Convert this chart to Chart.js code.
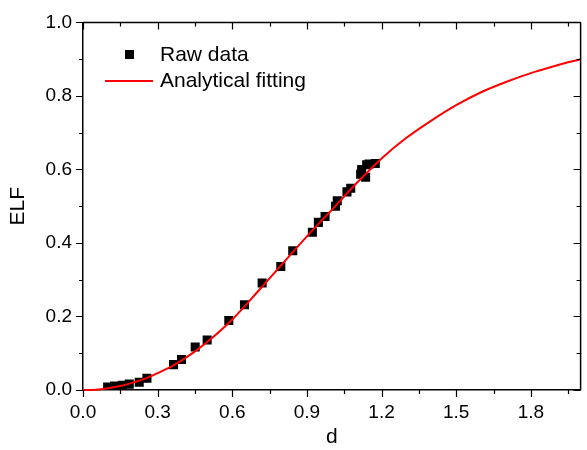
<!DOCTYPE html>
<html>
<head>
<meta charset="utf-8">
<script src="https://cdn.jsdelivr.net/npm/chart.js@4.4.1/dist/chart.umd.min.js"></script>
<style>
  html, body { margin: 0; padding: 0; background: #fff; }
  #wrap { width: 587px; height: 450px; }
</style>
</head>
<body>
<div id="wrap"><canvas id="elfChart"></canvas></div>
<script>
// raw data points (d, ELF)
const rawD   = [0.099, 0.127, 0.158, 0.186, 0.226, 0.257, 0.364, 0.396, 0.451, 0.499,
                0.586, 0.649, 0.720, 0.795, 0.843, 0.922, 0.946, 0.973, 1.015, 1.022,
                1.061, 1.076, 1.116, 1.136, 1.120, 1.140, 1.150, 1.175];
const rawELF = [0.008, 0.011, 0.013, 0.016, 0.021, 0.032, 0.069, 0.083, 0.117, 0.136,
                0.189, 0.232, 0.291, 0.336, 0.379, 0.429, 0.456, 0.472, 0.500, 0.515,
                0.539, 0.549, 0.587, 0.579, 0.600, 0.613, 0.615, 0.616];

// analytical fitting curve
const fitD   = [0, 0.05, 0.1, 0.15, 0.2, 0.25, 0.3, 0.35, 0.4, 0.45, 0.5, 0.6, 0.7, 0.8,
                0.9, 1.0, 1.1, 1.2, 1.3, 1.4, 1.5, 1.6, 1.7, 1.8, 1.9, 2.0];
const fitELF = [0, 0.001, 0.005, 0.011, 0.020, 0.031, 0.046, 0.062, 0.082, 0.105, 0.131,
                0.192, 0.266, 0.342, 0.418, 0.490, 0.563, 0.630, 0.686, 0.733, 0.775,
                0.810, 0.838, 0.862, 0.882, 0.900];

const xTicks = [0.0, 0.3, 0.6, 0.9, 1.2, 1.5, 1.8];
const yTicks = [0.0, 0.2, 0.4, 0.6, 0.8, 1.0];

const FONT = "'Liberation Sans', Arial, sans-serif";

// frame ticks: outward on bottom/left, inward on top/right, plus minor ticks
const frameTicks = {
  id: "frameTicks",
  afterDraw(chart) {
    const { ctx, chartArea: a, scales } = chart;
    const xs = scales.x, ys = scales.y;
    ctx.save();
    ctx.strokeStyle = "#000";
    ctx.lineWidth = 1.5;
    // top and right frame lines
    ctx.beginPath();
    ctx.moveTo(a.left, a.top); ctx.lineTo(a.right, a.top);
    ctx.moveTo(a.right, a.top); ctx.lineTo(a.right, a.bottom);
    ctx.stroke();
    ctx.lineWidth = 1.2;
    ctx.beginPath();
    for (let v = 0; v <= 2.0001; v += 0.15) {
      const major = Math.round(v / 0.15) % 2 === 0;
      const len = major ? 7 : 4;
      const px = Math.round(xs.getPixelForValue(v)) + 0.5;
      if (px > a.right + 1) continue;
      ctx.moveTo(px, a.bottom); ctx.lineTo(px, a.bottom + len);
      ctx.moveTo(px, a.top); ctx.lineTo(px, a.top + len);
    }
    for (let v = 0; v <= 1.0001; v += 0.1) {
      const major = Math.round(v / 0.1) % 2 === 0;
      const len = major ? 7 : 4;
      const py = Math.round(ys.getPixelForValue(v)) + 0.5;
      ctx.moveTo(a.left, py); ctx.lineTo(a.left - len, py);
      ctx.moveTo(a.right, py); ctx.lineTo(a.right - len, py);
    }
    ctx.stroke();

    // legend
    ctx.fillStyle = "#000";
    ctx.fillRect(125, 50, 9, 9);
    ctx.strokeStyle = "#ff0000";
    ctx.lineWidth = 2;
    ctx.beginPath();
    ctx.moveTo(105, 81); ctx.lineTo(153, 81);
    ctx.stroke();
    ctx.font = "21px " + FONT;
    ctx.textBaseline = "middle";
    ctx.fillStyle = "#000";
    ctx.fillText("Raw data", 160, 55);
    ctx.fillText("Analytical fitting", 160, 81);
    ctx.restore();
  }
};

new Chart(document.getElementById("elfChart"), {
  type: "scatter",
  data: {
    datasets: [{
      label: "Raw data",
      data: rawD.map((d, i) => ({ x: d, y: rawELF[i] })),
      pointStyle: "rect",
      radius: 6.4,
      backgroundColor: "#000",
      borderWidth: 0,
      order: 2
    }, {
      label: "Analytical fitting",
      data: fitD.map((d, i) => ({ x: d, y: fitELF[i] })),
      showLine: true,
      borderColor: "#ff0000",
      borderWidth: 2,
      pointRadius: 0,
      cubicInterpolationMode: "monotone",
      clip: false,
      order: 1
    }]
  },
  options: {
    responsive: true,
    maintainAspectRatio: false,
    animation: false,
    events: [],
    layout: { padding: { top: 15, right: 1, left: 6, bottom: 0 } },
    plugins: { legend: { display: false }, tooltip: { enabled: false } },
    scales: {
      x: {
        type: "linear",
        min: 0, max: 2.0,
        afterBuildTicks(s) { s.ticks = xTicks.map(v => ({ value: v })); },
        afterFit(s) { s.height = 60; },
        grid: { display: false, drawTicks: false },
        border: { display: true, color: "#000", width: 1.5 },
        ticks: {
          padding: 11,
          color: "#000",
          font: { family: FONT, size: 19 },
          callback: v => v.toFixed(1)
        },
        title: {
          display: true, text: "d", color: "#000",
          font: { family: FONT, size: 21 }, padding: { top: 0, bottom: 0 }
        }
      },
      y: {
        type: "linear",
        min: 0, max: 1.0,
        afterBuildTicks(s) { s.ticks = yTicks.map(v => ({ value: v })); },
        afterFit(s) { s.width = 77; },
        grid: { display: false, drawTicks: false },
        border: { display: true, color: "#000", width: 1.5 },
        ticks: {
          padding: 11,
          color: "#000",
          font: { family: FONT, size: 19 },
          callback: v => v.toFixed(1)
        },
        title: {
          display: true, text: "ELF", color: "#000",
          font: { family: FONT, size: 21 }, padding: { top: 0, bottom: 0 }
        }
      }
    }
  },
  plugins: [frameTicks]
});
</script>
</body>
</html>
